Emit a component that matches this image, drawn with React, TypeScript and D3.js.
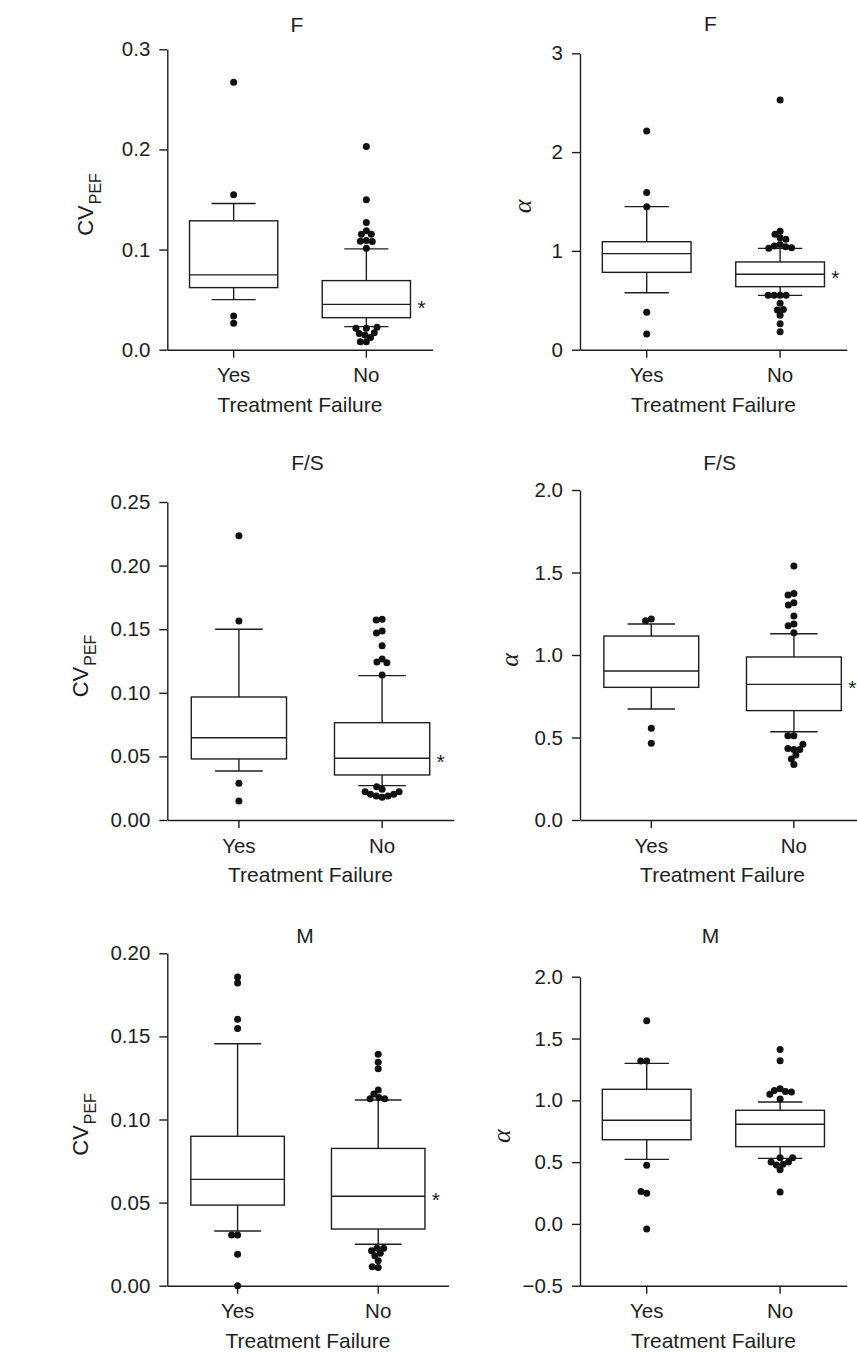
import React, { useRef, useEffect } from 'react';
import * as d3 from 'd3';

const GROUPS = ['Yes', 'No'];

// box stats per group: [whisker low, Q1, median, Q3, whisker high]
const F_CV_YES = [0.05, 0.062, 0.0747, 0.1287, 0.146];
const F_CV_YES_OUT = [0.267, 0.1547, 0.0337, 0.0263];
const F_CV_NO = [0.023, 0.032, 0.0453, 0.069, 0.1007];
const F_CV_NO_OUT = [0.203, 0.1497, 0.127, 0.1187, 0.1153, 0.1153, 0.109, 0.1083, 0.108, 0.1013,
  0.0223, 0.0213, 0.0213, 0.017, 0.0163, 0.0147, 0.0123, 0.008, 0.008];

const F_A_YES = [0.577, 0.783, 0.972, 1.093, 1.448];
const F_A_YES_OUT = [2.214, 1.59, 1.448, 0.378, 0.159];
const F_A_NO = [0.55, 0.638, 0.763, 0.888, 1.026];
const F_A_NO_OUT = [2.528, 1.2, 1.168, 1.134, 1.117, 1.066, 1.05, 1.043, 1.033, 1.026,
  0.55, 0.55, 0.55, 0.55, 0.469, 0.408, 0.402, 0.348, 0.263, 0.182];

const FS_CV_YES = [0.0385, 0.048, 0.0647, 0.0967, 0.15];
const FS_CV_YES_OUT = [0.2235, 0.1564, 0.0288, 0.0149];
const FS_CV_NO = [0.027, 0.0354, 0.0485, 0.0765, 0.1135];
const FS_CV_NO_OUT = [0.1578, 0.1572, 0.1486, 0.147, 0.137, 0.1266, 0.1242, 0.1237, 0.114,
  0.0262, 0.0241, 0.0223, 0.0223, 0.0202, 0.0202, 0.0189, 0.0189, 0.0178];

const FS_A_YES = [0.673, 0.804, 0.903, 1.115, 1.188];
const FS_A_YES_OUT = [1.218, 1.208, 0.556, 0.465];
const FS_A_NO = [0.535, 0.663, 0.822, 0.988, 1.129];
const FS_A_NO_OUT = [1.539, 1.372, 1.364, 1.317, 1.303, 1.236, 1.188, 1.178, 1.135,
  0.511, 0.511, 0.459, 0.434, 0.428, 0.428, 0.394, 0.37, 0.337];

const M_CV_YES = [0.0329, 0.0485, 0.064, 0.0899, 0.1456];
const M_CV_YES_OUT = [0.1858, 0.1821, 0.1603, 0.1547, 0.0305, 0.0305, 0.0189, 0.0];
const M_CV_NO = [0.0249, 0.0341, 0.0538, 0.0826, 0.1117];
const M_CV_NO_OUT = [0.1392, 0.1344, 0.1306, 0.1178, 0.1153, 0.1133, 0.1125, 0.1125,
  0.0225, 0.0225, 0.021, 0.0195, 0.018, 0.015, 0.0114, 0.011];

const M_A_YES = [0.522, 0.681, 0.838, 1.089, 1.299];
const M_A_YES_OUT = [1.644, 1.318, 1.318, 0.474, 0.263, 0.247, -0.041];
const M_A_NO = [0.53, 0.625, 0.806, 0.919, 0.986];
const M_A_NO_OUT = [1.41, 1.32, 1.094, 1.08, 1.072, 1.067, 1.048, 1.01,
  0.535, 0.535, 0.5, 0.5, 0.482, 0.477, 0.439, 0.258];

const TICKS_F_CV = [0, 0.1, 0.2, 0.3];
const TICKS_F_A = [0, 1, 2, 3];
const TICKS_FS_CV = [0, 0.05, 0.1, 0.15, 0.2, 0.25];
const TICKS_FS_A = [0, 0.5, 1, 1.5, 2];
const TICKS_M_CV = [0, 0.05, 0.1, 0.15, 0.2];
const TICKS_M_A = [-0.5, 0, 0.5, 1, 1.5, 2];

const INK = '#1e1e1e';
const SANS = '"Liberation Sans", Arial, Helvetica, sans-serif';
const SERIF = '"Liberation Serif", "Times New Roman", serif';

const PANELS = [
  { title: 'F', kind: 'cv', domain: [0, 0.3], ticks: TICKS_F_CV, fmt: '.1f',
    boxes: [F_CV_YES, F_CV_NO], outs: [F_CV_YES_OUT, F_CV_NO_OUT], star: true,
    x0: 167.3, step: 132.7, yTop: 49.3, yBot: 349.7, titleY: 32, labelX: 93 },
  { title: 'F', kind: 'a', domain: [0, 3], ticks: TICKS_F_A, fmt: 'd',
    boxes: [F_A_YES, F_A_NO], outs: [F_A_YES_OUT, F_A_NO_OUT], star: true,
    x0: 580, step: 133.4, yTop: 53.3, yBot: 349.7, titleY: 31, labelX: 531 },
  { title: 'F/S', kind: 'cv', domain: [0, 0.25], ticks: TICKS_FS_CV, fmt: '.2f',
    boxes: [FS_CV_YES, FS_CV_NO], outs: [FS_CV_YES_OUT, FS_CV_NO_OUT], star: true,
    x0: 167.3, step: 143.2, yTop: 502, yBot: 820, titleY: 470, labelX: 88 },
  { title: 'F/S', kind: 'a', domain: [0, 2], ticks: TICKS_FS_A, fmt: '.1f',
    boxes: [FS_A_YES, FS_A_NO], outs: [FS_A_YES_OUT, FS_A_NO_OUT], star: true,
    x0: 580, step: 142.6, yTop: 490, yBot: 820, titleY: 470, labelX: 518 },
  { title: 'M', kind: 'cv', domain: [0, 0.2], ticks: TICKS_M_CV, fmt: '.2f',
    boxes: [M_CV_YES, M_CV_NO], outs: [M_CV_YES_OUT, M_CV_NO_OUT], star: true,
    x0: 167.3, step: 140.6, yTop: 953.3, yBot: 1285.7, titleY: 943, labelX: 88 },
  { title: 'M', kind: 'a', domain: [-0.5, 2], ticks: TICKS_M_A, fmt: '.1f',
    boxes: [M_A_YES, M_A_NO], outs: [M_A_YES_OUT, M_A_NO_OUT], star: false,
    x0: 580, step: 133.4, yTop: 976.7, yBot: 1285.7, titleY: 943, labelX: 510 },
];

// simple beeswarm: most extreme points first, each placed nearest the centre without collision
function dodge(ys: number[], order: number[], d: number) {
  const placed: { x: number; y: number }[] = [];
  const offs = new Array(ys.length).fill(0);
  order.forEach(i => {
    const py = ys[i];
    const iv: [number, number][] = [];
    placed.forEach(q => {
      const dy = Math.abs(q.y - py);
      if (dy < d) {
        const h = Math.sqrt(d * d - dy * dy);
        iv.push([q.x - h, q.x + h]);
      }
    });
    const cands = [0];
    iv.forEach(([a, b]) => { cands.push(a, b); });
    cands.sort((a, b) => Math.abs(a) - Math.abs(b) || a - b);
    const ok = cands.find(c => iv.every(([a, b]) => c <= a + 1e-6 || c >= b - 1e-6));
    offs[i] = ok ?? 0;
    placed.push({ x: offs[i], y: py });
  });
  return offs;
}

export default function App() {
  const ref = useRef<SVGSVGElement>(null);

  useEffect(() => {
    if (!ref.current) return;
    const svg = d3.select(ref.current);
    svg.selectAll('*').remove();

    PANELS.forEach(p => {
      const g = svg.append('g');
      const x = d3.scaleBand().domain(GROUPS).range([p.x0, p.x0 + 2 * p.step]).padding(0);
      const y = d3.scaleLinear().domain(p.domain).range([p.yBot, p.yTop]);
      const bw = x.bandwidth() * 0.665;

      const yAx = g.append('g')
        .attr('transform', `translate(${p.x0},0)`)
        .call(d3.axisLeft(y).tickValues(p.ticks).tickFormat(d3.format(p.fmt) as any)
          .tickSize(8).tickPadding(9).tickSizeOuter(0));
      const xAx = g.append('g')
        .attr('transform', `translate(0,${p.yBot})`)
        .call(d3.axisBottom(x).tickSize(8).tickPadding(10).tickSizeOuter(0));
      [yAx, xAx].forEach(a => {
        a.attr('font-family', SANS).attr('font-size', 20.5);
        a.selectAll('path, line').attr('stroke', INK).attr('stroke-width', 1.4);
        a.selectAll('text').attr('fill', INK);
      });

      // title
      g.append('text')
        .attr('x', p.x0 + p.step - 3).attr('y', p.titleY)
        .attr('text-anchor', 'middle').attr('font-family', SANS).attr('font-size', 21)
        .attr('fill', INK).text(p.title);

      // x title
      g.append('text')
        .attr('x', p.x0 + p.step).attr('y', p.yBot + 62)
        .attr('text-anchor', 'middle').attr('font-family', SANS).attr('font-size', 21)
        .attr('fill', INK).text('Treatment Failure');

      // y title
      const yMid = (p.yTop + p.yBot) / 2 + 5;
      const yl = g.append('text')
        .attr('transform', `translate(${p.labelX},${yMid}) rotate(-90)`)
        .attr('text-anchor', 'middle').attr('fill', INK);
      if (p.kind === 'cv') {
        yl.attr('font-family', SANS);
        yl.append('tspan').attr('font-size', 22).text('CV');
        yl.append('tspan').attr('font-size', 16).attr('dy', 8).attr('dx', 1).text('PEF');
      } else {
        yl.attr('font-family', SERIF).attr('font-style', 'italic').attr('font-size', 26).text('α');
      }

      GROUPS.forEach((grp, gi) => {
        const [wlo, q1, med, q3, whi] = p.boxes[gi];
        const cx = (x(grp) as number) + x.bandwidth() / 2;
        const bg = g.append('g').attr('stroke', INK).attr('stroke-width', 1.4).attr('fill', 'none');
        bg.append('line').attr('x1', cx).attr('x2', cx).attr('y1', y(q3)).attr('y2', y(whi));
        bg.append('line').attr('x1', cx).attr('x2', cx).attr('y1', y(q1)).attr('y2', y(wlo));
        [wlo, whi].forEach(w => {
          bg.append('line').attr('x1', cx - bw / 4).attr('x2', cx + bw / 4).attr('y1', y(w)).attr('y2', y(w));
        });
        bg.append('rect').attr('x', cx - bw / 2).attr('width', bw)
          .attr('y', y(q3)).attr('height', y(q1) - y(q3)).attr('fill', '#fff');
        bg.append('line').attr('x1', cx - bw / 2).attr('x2', cx + bw / 2).attr('y1', y(med)).attr('y2', y(med));

        const vals = p.outs[gi];
        const ys = vals.map(v => y(v));
        const order = d3.range(vals.length).sort((a, b) => Math.abs(vals[b] - med) - Math.abs(vals[a] - med));
        const offs = dodge(ys, order, 6);
        g.append('g').selectAll('circle').data(vals).join('circle')
          .attr('cx', (d, i) => cx + offs[i])
          .attr('cy', d => y(d))
          .attr('r', 3.5)
          .attr('fill', '#111');

        if (p.star && gi === 1) {
          g.append('text')
            .attr('x', cx + bw / 2 + 11).attr('y', y(med) + 11)
            .attr('text-anchor', 'middle').attr('font-family', SANS).attr('font-size', 21)
            .attr('fill', INK).text('*');
        }
      });
    });
  }, []);

  return (
    <div style={{ position: 'absolute', left: 0, top: 0, width: 857, height: 1352, background: '#fff' }}>
      <svg ref={ref} width={857} height={1352} style={{ display: 'block' }} />
    </div>
  );
}
